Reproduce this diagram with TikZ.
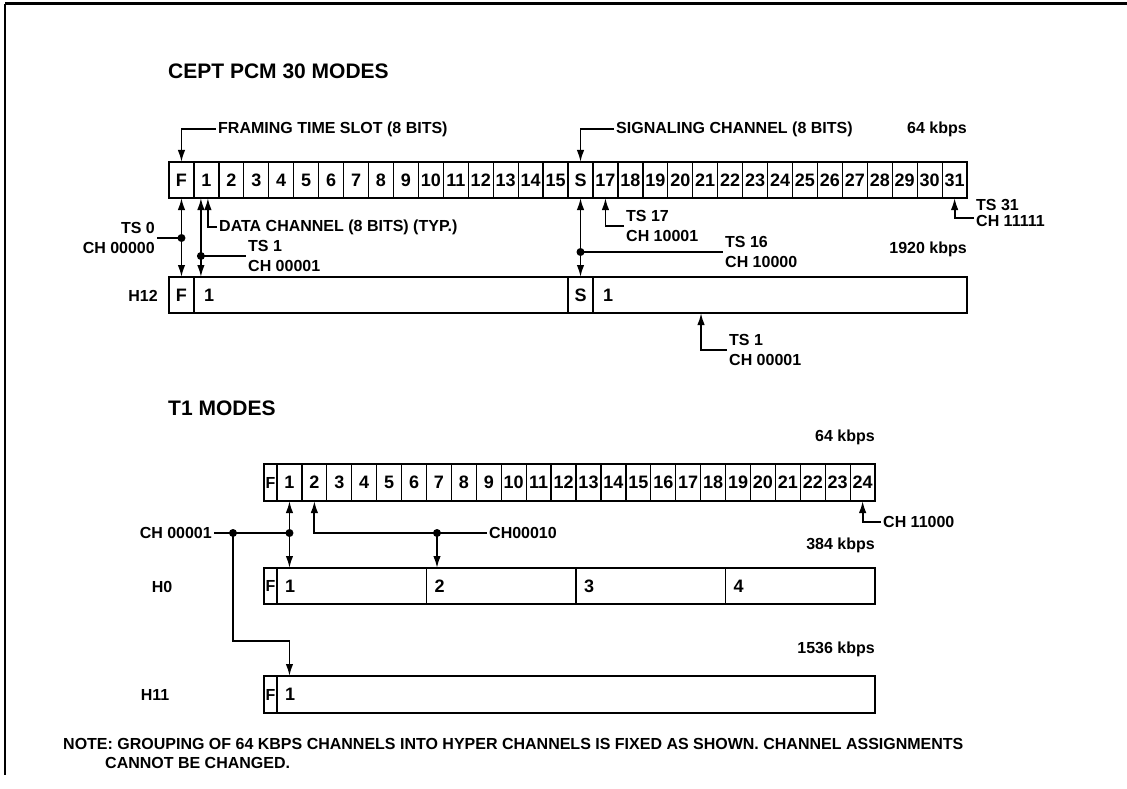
\documentclass[tikz,border=0pt]{standalone}
\usepackage{fontspec}
\setmainfont{Liberation Sans}
\usetikzlibrary{arrows.meta,calc}
\newcommand\lblfont{\fontsize{16}{20}\selectfont\bfseries}
\newcommand\numfont{\fontsize{18}{20}\selectfont\bfseries}
\newcommand\headfont{\fontsize{21}{24}\selectfont\bfseries}
\begin{document}
\begin{tikzpicture}[x=1pt,y=-1pt,
  cell/.style={draw, line width=1.3pt, minimum height=36pt, inner sep=0pt, outer sep=0pt, font=\numfont},
  lbl/.style={font=\lblfont, inner sep=2pt, align=left},
  num/.style={font=\numfont, inner sep=2pt},
  head/.style={font=\headfont, inner sep=2pt},
  conn/.style={line width=1.8pt},
  tip/.tip={Latex[length=12pt,width=7.5pt]},
  arr/.style={conn, -tip},
  darr/.style={conn, tip-tip},
  dot/.style={circle, fill, inner sep=0pt, minimum size=8pt}]
\useasboundingbox (0,0) rectangle (1127,789);
% frame
\draw[line width=3pt] (5,4) -- (1127,4);
\draw[line width=1.2pt] (5,4) -- (5,775);
% headings
\node[head, anchor=west] (hcept) at (166,71) {CEPT PCM 30 MODES};
\node[head, anchor=west] (ht1) at (166,408) {T1 MODES};
% CEPT 64 kbps row
\foreach \i in {0,...,31} {
  \pgfmathsetmacro\cx{169+24.94*(\i+0.5)}
  \node[cell, minimum width=24.94pt] (c\i) at (\cx,180) {\ifnum\i=0 F\else\ifnum\i=16 S\else\i\fi\fi};
}
% H12 row
\node[cell, minimum width=24.94pt, anchor=west] (h12f) at (169,295) {F};
\node[cell, minimum width=374.1pt, anchor=west] (h12a) at (h12f.east) {};
\node[cell, minimum width=24.94pt, anchor=west] (h12s) at (h12a.east) {S};
\node[cell, minimum width=374.1pt, anchor=west] (h12b) at (h12s.east) {};
\node[num, anchor=west] (h12al) at ([xshift=8pt]h12a.west) {1};
\node[num, anchor=west] (h12bl) at ([xshift=8pt]h12b.west) {1};
\node[lbl, anchor=center] (h12lab) at (143,296) {H12};
% CEPT labels
\node[lbl, anchor=east] (k64a) at (969,129) {64 kbps};
\node[lbl, anchor=east] (k1920) at (969,249) {1920 kbps};
\node[lbl, anchor=west] (fr) at (216,129) {FRAMING TIME SLOT (8 BITS)};
\node[lbl, anchor=west] (sig) at (614,129) {SIGNALING CHANNEL (8 BITS)};
\node[lbl, anchor=west] (data) at (217,227) {DATA CHANNEL (8 BITS) (TYP.)};
\node[lbl, anchor=east, align=right] (ts0) at (157,238) {TS 0\\CH 00000};
\node[lbl, anchor=west] (ts1) at (246,256) {TS 1\\CH 00001};
\node[lbl, anchor=west] (ts17) at (624,226) {TS 17\\CH 10001};
\node[lbl, anchor=west] (ts16) at (723,252) {TS 16\\CH 10000};
\node[lbl, anchor=west] (ts31) at (974,213) {TS 31\\[-4pt]CH 11111};
\node[lbl, anchor=west] (ts1b) at (727,350) {TS 1\\CH 00001};
% CEPT connectors
\draw[arr] (fr.west) -| (c0.north);
\draw[arr] (sig.west) -| (c16.north);
\draw[darr] (c0.south) -- (c0.south |- h12f.north);
\coordinate (d0) at (c0.south |- ts0.east);
\draw[conn] (ts0.east) -- (d0);
\node[dot] (d0dot) at (d0) {};
\coordinate (a1) at ([xshift=-5.5pt]c1.south);
\draw[darr] (a1) -- (a1 |- h12a.north);
\coordinate (d1) at (a1 |- ts1.west);
\draw[conn] (d1) -- (ts1.west);
\node[dot] (d1dot) at (d1) {};
\draw[arr] (data.west) -| ([xshift=1.5pt]c1.south);
\draw[darr] (c16.south) -- (c16.south |- h12s.north);
\coordinate (d16) at (c16.south |- ts16.west);
\draw[conn] (d16) -- (ts16.west);
\node[dot] (d16dot) at (d16) {};
\draw[arr] (ts17.west) -| (c17.south);
\draw[arr] ([yshift=-5pt]ts31.west) -| (c31.south);
\draw[arr] (ts1b.west) -| ([xshift=-79pt]h12b.south);
% T1 64 kbps row
\node[cell, minimum width=13pt, minimum height=37pt, anchor=west, font=\lblfont] (t0) at (264,482.5) {F};
\foreach \i in {1,...,24} {
  \pgfmathsetmacro\cx{277+24.92*(\i-0.5)}
  \node[cell, minimum width=24.92pt, minimum height=37pt] (t\i) at (\cx,482.5) {\i};
}
% H0 row
\node[cell, minimum width=13pt, anchor=west, font=\lblfont] (h0f) at (264,586) {F};
\node[cell, minimum width=149.5pt, anchor=west] (h0a) at (h0f.east) {};
\node[cell, minimum width=149.5pt, anchor=west] (h0b) at (h0a.east) {};
\node[cell, minimum width=149.5pt, anchor=west] (h0c) at (h0b.east) {};
\node[cell, minimum width=149.5pt, anchor=west] (h0d) at (h0c.east) {};
\node[num, anchor=west] (h0al) at ([xshift=6pt]h0a.west) {1};
\node[num, anchor=west] (h0bl) at ([xshift=6pt]h0b.west) {2};
\node[num, anchor=west] (h0cl) at ([xshift=6pt]h0c.west) {3};
\node[num, anchor=west] (h0dl) at ([xshift=6pt]h0d.west) {4};
\node[lbl, anchor=center] (h0lab) at (162,587) {H0};
% H11 row
\node[cell, minimum width=13pt, minimum height=37pt, anchor=west, font=\lblfont] (h11f) at (264,694.5) {F};
\node[cell, minimum width=598pt, minimum height=37pt, anchor=west] (h11a) at (h11f.east) {};
\node[num, anchor=west] (h11al) at ([xshift=6pt]h11a.west) {1};
\node[lbl, anchor=center] (h11lab) at (155,695) {H11};
% T1 labels
\node[lbl, anchor=east] (k64b) at (877,437) {64 kbps};
\node[lbl, anchor=east] (k384) at (877,545) {384 kbps};
\node[lbl, anchor=east] (k1536) at (877,649) {1536 kbps};
\node[lbl, anchor=east] (ch1) at (214,533) {CH 00001};
\node[lbl, anchor=west] (ch10) at (487,533) {CH00010};
\node[lbl, anchor=west] (ch11) at (881,522) {CH 11000};
% T1 connectors
\draw[darr] (t1.south) -- (t1.south |- h0a.north);
\coordinate (e1) at (t1.south |- ch1.east);
\draw[conn] (ch1.east) -- (e1);
\node[dot] (e1dot) at (e1) {};
\coordinate (j) at ($(ch1.east)+(19,0)$);
\node[dot] (jdot) at (j) {};
\draw[arr] (j) -- ++(0,108) -| (t1.south |- h11a.north);
\draw[arr] (ch10.west) -| (t2.south);
\coordinate (d2x) at ([xshift=10.5pt]h0b.north west);
\coordinate (d2) at (d2x |- ch10.west);
\draw[arr] (d2) -- (d2x);
\node[dot] (d2dot) at (d2) {};
\draw[arr] (ch11.west) -| (t24.south);
% note
\node[lbl, anchor=west] (note1) at (61,744) {NOTE: GROUPING OF 64 KBPS CHANNELS INTO HYPER CHANNELS IS FIXED AS SHOWN. CHANNEL ASSIGNMENTS};
\node[lbl, anchor=west] (note2) at (103,763) {CANNOT BE CHANGED.};
\end{tikzpicture}
\end{document}
